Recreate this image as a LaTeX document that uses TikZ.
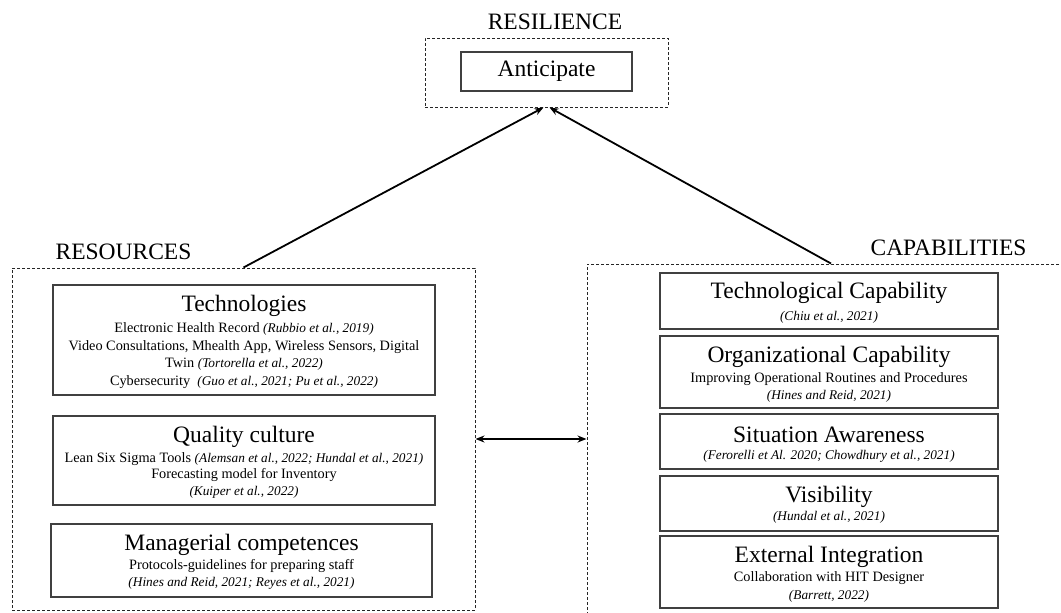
\documentclass[tikz,border=0pt]{standalone}
\usepackage{fontspec}
\setmainfont{Liberation Serif}
\usetikzlibrary{arrows.meta}

\newcommand\headfs{\fontsize{23.5}{26}\selectfont}
\newcommand\bodyfs{\fontsize{14.3}{17}\selectfont}
\newcommand\refit[1]{{\fontsize{13.3}{16}\selectfont\itshape #1}}

\tikzset{
  group/.style={draw=black!85, line width=1pt, dash pattern=on 3pt off 2pt, inner sep=0},
  itembox/.style={draw=black!75, line width=1.6pt, inner sep=0},
  head/.style={inner sep=0, font=\headfs},
  body/.style={inner sep=0, font=\bodyfs},
  link/.style={line width=1.8pt, -{Stealth[length=9pt,width=7pt]}},
  both/.style={line width=1.8pt, {Stealth[length=9pt,width=7pt]}-{Stealth[length=9pt,width=7pt]}}
}

\begin{document}
\begin{tikzpicture}[x=1pt, y=-1pt]
\useasboundingbox (0,0) rectangle (1061,613);
\clip (0,0) rectangle (1061,613);

% ---------- resilience ----------
\node[head] (lres) at (555,21.5) {RESILIENCE};
\node[group, minimum width=243pt, minimum height=69pt] (resl) at (546.5,72.5) {};
\node[itembox, minimum width=171pt, minimum height=39pt, font=\headfs] (anti) at (546.5,71.5) {Anticipate};

% ---------- resources ----------
\node[head] (lsrc) at (123.5,251.5) {RESOURCES};
\node[group, minimum width=463pt, minimum height=342pt] (res) at (243.5,439) {};

\node[itembox, minimum width=382pt, minimum height=110pt] (tech) at (244,340) {};
\node[head] (techh) at (244,305.5) {Technologies};
\node[body] (tech1) at (244,329) {Electronic Health Record \refit{(Rubbio et al., 2019)}};
\node[body] (tech2) at (244,347) {Video Consultations, Mhealth App, Wireless Sensors, Digital};
\node[body] (tech3) at (244,364) {Twin \refit{(Tortorella et al., 2022)}};
\node[body] (tech4) at (244,382) {Cybersecurity \ \refit{(Guo et al., 2021; Pu et al., 2022)}};

\node[itembox, minimum width=382pt, minimum height=89pt] (qual) at (244,460.5) {};
\node[head] (qualh) at (244,437) {Quality culture};
\node[body] (qual1) at (244,459) {Lean Six Sigma Tools \refit{(Alemsan et al., 2022; Hundal et al., 2021)}};
\node[body] (qual2) at (244,475.5) {Forecasting model for Inventory};
\node[body] (qual3) at (244,492) {\refit{(Kuiper et al., 2022)}};

\node[itembox, minimum width=381pt, minimum height=73pt] (mgmt) at (241.5,560.5) {};
\node[head] (mgmth) at (241.5,545) {Managerial competences};
\node[body] (mgmt1) at (241.5,566.5) {Protocols-guidelines for preparing staff};
\node[body] (mgmt2) at (241.5,583.5) {\refit{(Hines and Reid, 2021; Reyes et al., 2021)}};

% ---------- capabilities ----------
\node[head] (lcap) at (948.5,247.5) {CAPABILITIES};
\node[group, minimum width=488pt, minimum height=361pt] (cap) at (831,444.5) {};

\node[itembox, minimum width=338pt, minimum height=56pt] (tc) at (829,301) {};
\node[head] (tch) at (829,293) {Technological Capability};
\node[body] (tc1) at (829,317) {\refit{(Chiu et al., 2021)}};

\node[itembox, minimum width=338pt, minimum height=72pt] (oc) at (829,372) {};
\node[head] (och) at (829,357) {Organizational Capability};
\node[body] (oc1) at (829,379.5) {Improving Operational Routines and Procedures};
\node[body] (oc2) at (829,396) {\refit{(Hines and Reid, 2021)}};

\node[itembox, minimum width=338pt, minimum height=55pt] (sa) at (829,441.5) {};
\node[head] (sah) at (829,434.5) {Situation Awareness};
\node[body] (sa1) at (829,456) {\refit{(Ferorelli et Al. 2020; Chowdhury et al., 2021)}};

\node[itembox, minimum width=338pt, minimum height=55pt] (vis) at (829,503.5) {};
\node[head] (vish) at (829,496.5) {Visibility};
\node[body] (vis1) at (829,517.5) {\refit{(Hundal et al., 2021)}};

\node[itembox, minimum width=338pt, minimum height=72pt] (ei) at (829,572) {};
\node[head] (eih) at (829,556.5) {External Integration};
\node[body] (ei1) at (829,578.5) {Collaboration with HIT Designer};
\node[body] (ei2) at (829,596) {\refit{(Barrett, 2022)}};

% ---------- connectors ----------
\draw[link] (res.north) -- ([xshift=-3pt]resl.south);
\draw[link] (cap.north) -- ([xshift=3pt]resl.south);
\draw[both] (res.east) -- (res.east -| cap.west);
\end{tikzpicture}
\end{document}
